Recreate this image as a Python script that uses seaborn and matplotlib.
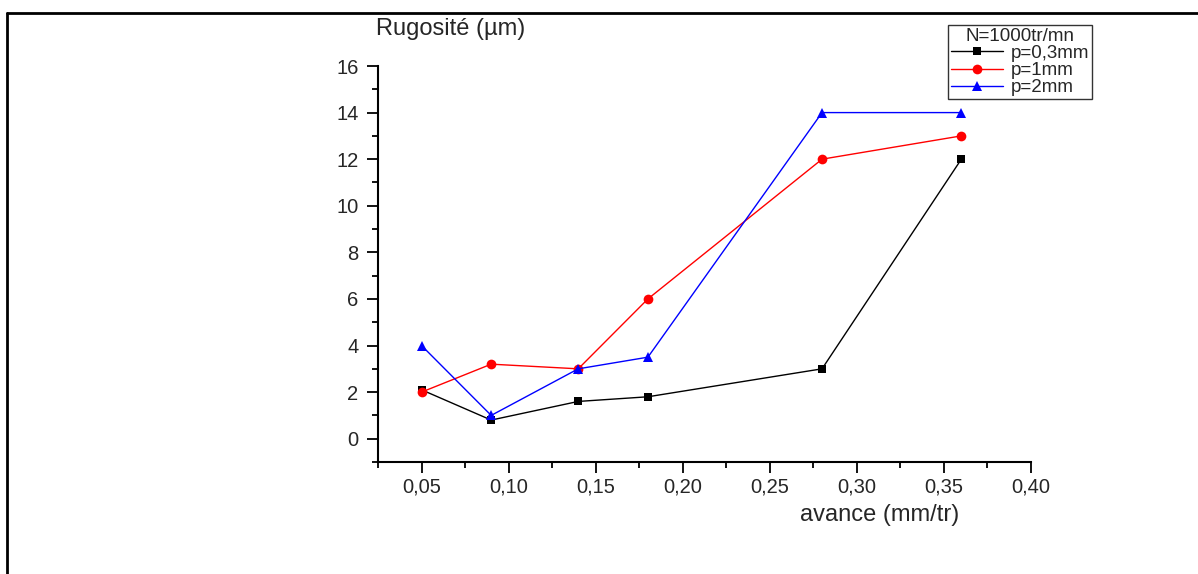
import pandas as pd
import seaborn as sns
import matplotlib.pyplot as plt
from matplotlib.lines import Line2D
from matplotlib.ticker import MultipleLocator, FuncFormatter

avance = [0.05, 0.09, 0.14, 0.18, 0.28, 0.36]
rug_p03 = [2.1, 0.8, 1.6, 1.8, 3.0, 12.0]
rug_p1 = [2.0, 3.2, 3.0, 6.0, 12.0, 13.0]
rug_p2 = [4.0, 1.0, 3.0, 3.5, 14.0, 14.0]
labels = ['p=0,3mm', 'p=1mm', 'p=2mm']

sns.set_theme(style='ticks')
plt.rcParams['font.family'] = ['Liberation Sans', 'DejaVu Sans']

fig = plt.figure(figsize=(11.98, 5.74), dpi=100)
ax = fig.add_axes([378/1198, 1-462/574, (1031-378)/1198, (462-66)/574])

series = [(rug_p03, 'black', 's', 6), (rug_p1, 'red', 'o', 7), (rug_p2, 'blue', '^', 7)]
for (vals, col, mk, ms), lab in zip(series, labels):
    df = pd.DataFrame({'avance': avance, 'rug': vals})
    sns.lineplot(data=df, x='avance', y='rug', ax=ax, color=col, marker=mk,
                 markersize=ms, markeredgewidth=0, linewidth=1, label=lab)

ax.set_xlim(0.025, 0.40)
ax.set_ylim(-1, 16)
ax.xaxis.set_major_locator(MultipleLocator(0.05))
ax.xaxis.set_minor_locator(MultipleLocator(0.025))
ax.yaxis.set_major_locator(MultipleLocator(2))
ax.yaxis.set_minor_locator(MultipleLocator(1))
ax.xaxis.set_major_formatter(FuncFormatter(lambda v, p: '' if v < 0.04 else f'{v:.2f}'.replace('.', ',')))
ax.yaxis.set_major_formatter(FuncFormatter(lambda v, p: '' if v < 0 else f'{v:.0f}'))
ax.tick_params(which='major', length=8, width=1.3, labelsize=14.5, color='black', pad=3)
ax.tick_params(axis='y', which='major', pad=6)
ax.tick_params(which='minor', length=4, width=1.3, color='black')
for s in ['top', 'right']:
    ax.spines[s].set_visible(False)
for s in ['left', 'bottom']:
    ax.spines[s].set_linewidth(1.5)
    ax.spines[s].set_color('black')
ax.set_xlabel('')
ax.set_ylabel('')

ax.get_legend().remove()
h, l = ax.get_legend_handles_labels()
leg = fig.legend(h, l, title='N=1000tr/mn', loc='upper left',
                 bbox_to_anchor=(948/1198, 1-25/574), fontsize=13.5, title_fontsize=13.5,
                 frameon=True, fancybox=False, handlelength=2.8, borderpad=0.15,
                 labelspacing=0.0, handletextpad=0.4, borderaxespad=0)
leg.get_frame().set_edgecolor('black')
leg.get_frame().set_linewidth(1)

fig.text(376/1198, 1-29/574, 'Rugosité (µm)', fontsize=17, ha='left', va='center')
fig.text(880/1198, 1-515/574, 'avance (mm/tr)', fontsize=17, ha='center', va='center')

fig.add_artist(Line2D([7/1198, 1], [1-13/574, 1-13/574], transform=fig.transFigure, color='black', linewidth=2))
fig.add_artist(Line2D([7/1198, 7/1198], [0, 1-13/574], transform=fig.transFigure, color='black', linewidth=2))

fig.savefig('out.png', dpi=100)
